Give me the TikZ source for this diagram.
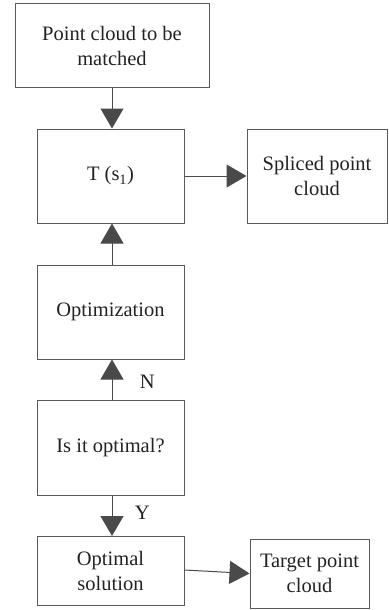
\documentclass[tikz,border=0pt]{standalone}
\usepackage{fontspec}
\setmainfont{Liberation Serif}
\usetikzlibrary{arrows.meta}
\definecolor{boxc}{HTML}{5A5A5A}
\definecolor{arrc}{HTML}{4A4A4A}
\definecolor{txtc}{HTML}{222222}
\begin{document}
\begin{tikzpicture}[x=1pt,y=-1pt,
  box/.style={draw=boxc,line width=1pt,text=txtc,align=center,font=\fontsize{20.5}{25}\selectfont,inner sep=0pt},
  arr/.style={draw=arrc,line width=1pt,-{Triangle[length=20pt,width=23pt]}},
  lab/.style={text=txtc,font=\fontsize{20.5}{25}\selectfont,anchor=west}]
\useasboundingbox (0,0) rectangle (388,610);
\node[box,minimum width=194pt,minimum height=83pt] (pc) at (112,45.5) {Point cloud to be\\matched};
\node[box,minimum width=147pt,minimum height=94pt] (t) at (110.5,176) {T (s\textsubscript{1})};
\node[box,minimum width=140pt,minimum height=94pt] (sp) at (317,176) {Spliced point\\cloud};
\node[box,minimum width=147pt,minimum height=94pt] (op) at (110.5,312) {Optimization};
\node[box,minimum width=147pt,minimum height=95pt] (is) at (110.5,447.5) {Is it optimal?};
\node[box,minimum width=147pt,minimum height=69pt] (os) at (110.5,571) {Optimal\\solution};
\node[box,minimum width=119pt,minimum height=69pt] (tp) at (309.5,573.5) {Target point\\cloud};
\draw[arr] (pc.south -| 112,0) -- (t.north -| 112,0);
\draw[arr] (t.east) -- (sp.west);
\draw[arr] (op.north -| 112,0) -- (t.south -| 112,0);
\draw[arr] (is.north -| 112,0) -- node[lab,pos=0.44,xshift=24pt]{N} (op.south -| 112,0);
\draw[arr] (is.south -| 112,0) -- node[lab,pos=0.43,xshift=19pt]{Y} (os.north -| 112,0);
\draw[arr] (os.east) ++(0,-1) coordinate (a) -- (tp.west);
\end{tikzpicture}
\end{document}
